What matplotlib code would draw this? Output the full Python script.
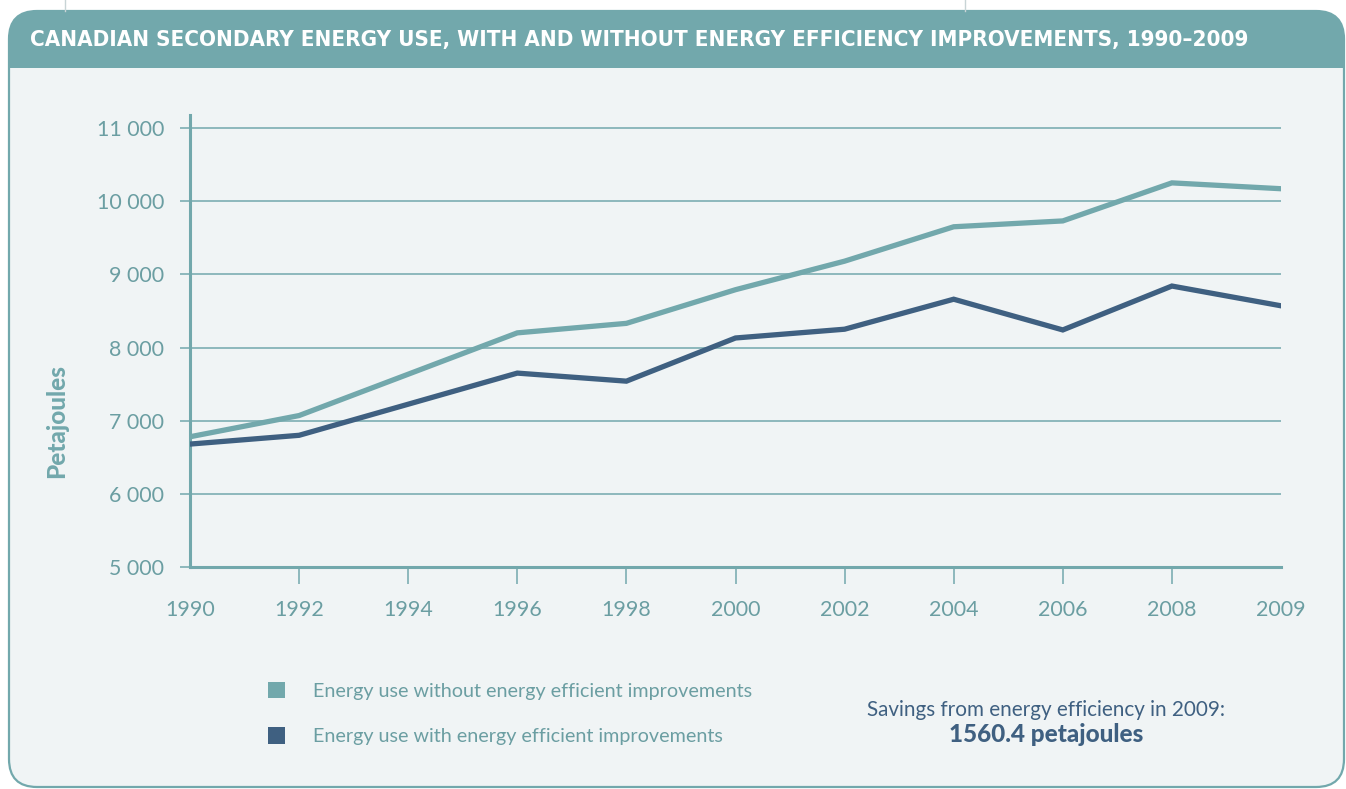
import matplotlib
matplotlib.use("Agg")
import matplotlib.pyplot as plt
from matplotlib.patches import FancyBboxPatch, Rectangle, Patch

# data (petajoules)
years = ['1990', '1992', '1994', '1996', '1998', '2000', '2002', '2004', '2006', '2008', '2009']
pos_pts = [0, 1, 3, 4, 5, 6, 7, 8, 9, 10]   # vertices at the labelled years (no 1994 vertex)
sans_eff = [6780, 7070, 8200, 8330, 8790, 9180, 9650, 9730, 10250, 10170]
avec_eff = [6680, 6800, 7650, 7540, 8130, 8250, 8660, 8240, 8840, 8570]
yticks = [5000, 6000, 7000, 8000, 9000, 10000, 11000]
ylabels = ['5 000', '6 000', '7 000', '8 000', '9 000', '10 000', '11 000']

titre = 'CANADIAN SECONDARY ENERGY USE, WITH AND WITHOUT ENERGY EFFICIENCY IMPROVEMENTS, 1990–2009'
leg1 = 'Energy use without energy efficient improvements'
leg2 = 'Energy use with energy efficient improvements'

TEAL = '#72a8ac'
DARK = '#3f6081'
TXT = '#6b9ea2'
FOND = '#f0f4f5'
plt.rcParams['font.family'] = ['Lato', 'DejaVu Sans']

W, H = 1346, 789
fig = plt.figure(figsize=(W / 100, H / 100), dpi=100)
fig.patch.set_facecolor('white')

# fond : axes en pixels
bg = fig.add_axes([0, 0, 1, 1], zorder=0)
bg.set_xlim(0, W)
bg.set_ylim(H, 0)
bg.axis('off')

panneau = FancyBboxPatch((9, 11), 1335, 776, boxstyle='round,pad=0,rounding_size=28',
                         facecolor=FOND, edgecolor='none')
bg.add_patch(panneau)
entete = Rectangle((0, 0), W, 68, facecolor=TEAL, edgecolor='none')
bg.add_patch(entete)
entete.set_clip_path(panneau)
bord = FancyBboxPatch((9, 11), 1335, 776, boxstyle='round,pad=0,rounding_size=28',
                      facecolor='none', edgecolor=TEAL, lw=1.6)
bg.add_patch(bord)
bg.plot([65, 65], [0, 11], color='#c8d4d6', lw=1)
bg.plot([965, 965], [0, 11], color='#c8d4d6', lw=1)

bg.text(30, 40, titre, color='white', fontsize=16, fontweight='bold',
        family='DejaVu Sans', fontstretch='condensed', ha='left', va='center')

# graphique
left, right, top, bottom = 190, 1281, 115, 567
ax = fig.add_axes([left / W, 1 - bottom / H, (right - left) / W, (bottom - top) / H], zorder=2)
ax.set_facecolor('none')
ymax = 5000 + 6000 * (bottom - top) / (bottom - 128)
ax.set_xlim(0, 10)
ax.set_ylim(5000, ymax)

ax.plot(pos_pts, sans_eff, color=TEAL, lw=3.8, solid_joinstyle='miter', zorder=3)
ax.plot(pos_pts, avec_eff, color=DARK, lw=3.8, solid_joinstyle='miter', zorder=3)

ax.set_yticks(yticks)
ax.set_yticklabels(ylabels)
ax.yaxis.grid(True, color=TEAL, lw=1.1)
ax.set_axisbelow(True)
ax.tick_params(axis='y', length=7.5, width=1.1, color=TEAL, pad=11,
               labelsize=15.4, labelcolor=TXT)

ax.set_xticks(range(len(years)))
ax.set_xticklabels(years)
ax.tick_params(axis='x', length=12, width=1.1, color=TEAL, pad=11.5,
               labelsize=15.4, labelcolor=TXT)
for t in ax.xaxis.get_major_ticks():
    if t.get_loc() in (0, 10):
        t.tick1line.set_visible(False)

for s in ['top', 'right']:
    ax.spines[s].set_visible(False)
for s in ['left', 'bottom']:
    ax.spines[s].set_color(TEAL)
    ax.spines[s].set_linewidth(2.2)

bg.text(57, 421, 'Petajoules', rotation=90, color=TEAL, fontsize=17.5, fontweight='black',
        ha='center', va='center')

# legende
poignees = [Patch(facecolor=TEAL, edgecolor='none'), Patch(facecolor=DARK, edgecolor='none')]
leg = bg.legend(poignees, [leg1, leg2], loc='upper left', bbox_to_anchor=(268, 682),
                bbox_transform=bg.transData, frameon=False, borderpad=0, borderaxespad=0,
                handlelength=0.88, handleheight=0.88, handletextpad=1.4, labelspacing=1.4,
                fontsize=14.2)
for t in leg.get_texts():
    t.set_color(TXT)

bg.text(1046, 710, 'Savings from energy efficiency in 2009:', color=DARK, fontsize=14.9,
        ha='center', va='center')
bg.text(1046, 735, '1560.4 petajoules', color=DARK, fontsize=17.5, fontweight='black',
        ha='center', va='center')

fig.savefig('out.png', dpi=100, facecolor='white')
